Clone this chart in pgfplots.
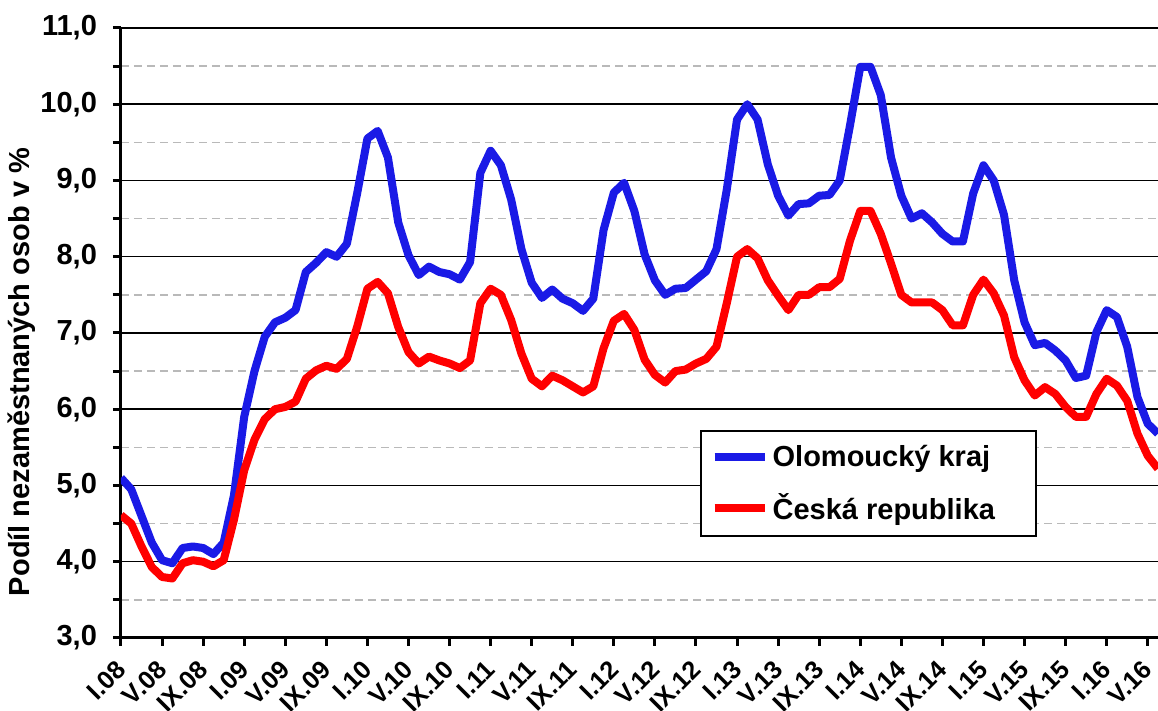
\documentclass[border=0pt]{standalone}
\usepackage{fontspec}
\setmainfont{Liberation Sans}
\usepackage{pgfplots}
\pgfplotsset{compat=1.18}
\definecolor{olblue}{RGB}{26,26,230}
\definecolor{gridgray}{RGB}{185,185,185}
\newcommand{\lblfont}{\bfseries\fontsize{14.5}{17}\selectfont}
\newcommand{\xlblfont}{\bfseries\fontsize{12.7}{15}\selectfont}
\begin{document}
\begin{tikzpicture}
\begin{axis}[
  scale only axis, width=518.5pt, height=305pt,
  xmin=0, xmax=101, ymin=3, ymax=11,
  axis x line*=bottom, axis y line*=left,
  axis line style={line width=1.5pt, -},
  xtick={0,4,...,100},
  xticklabels={I.08,V.08,IX.08,I.09,V.09,IX.09,I.10,V.10,IX.10,I.11,V.11,IX.11,I.12,V.12,IX.12,I.13,V.13,IX.13,I.14,V.14,IX.14,I.15,V.15,IX.15,I.16,V.16},
  ytick={3,4,...,11},
  minor ytick={3.5,4.5,...,10.5},
  tick align=outside, major tick length=4pt, minor tick length=4pt,
  tick style={line width=1.5pt, black},
  ymajorgrids, yminorgrids,
  major grid style={line width=0.75pt, black},
  minor grid style={line width=0.75pt, gridgray, dash pattern=on 4pt off 2.5pt},
  /pgf/number format/fixed,
  /pgf/number format/fixed zerofill,
  /pgf/number format/precision=1,
  /pgf/number format/use comma,
  /pgf/number format/assume math mode=true,
  yticklabel style={font=\lblfont, xshift=-4.5pt},
  xticklabel style={font=\xlblfont, xshift=2.5pt, yshift=-7pt, rotate=45, anchor=east},
  ylabel={Podíl nezaměstnaných osob v \%},
  ylabel style={at={(axis description cs:-0.0955,0.436)}, anchor=center, font=\lblfont},
  legend style={at={(axis description cs:0.558,0.341)}, anchor=north west, draw=black, line width=1pt, fill=white, font=\lblfont, inner xsep=5pt, inner ysep=5pt, row sep=8pt},
  legend cell align=left,
  legend image code/.code={\draw[#1] (0pt,0pt) -- (25pt,0pt);},
  every axis plot/.append style={line width=4pt, line join=round},
]
\addplot[olblue] coordinates {
(0,5.1)(1,4.95)(2,4.6)(3,4.25)(4,4.02)(5,3.98)(6,4.18)(7,4.2)(8,4.18)(9,4.1)
(10,4.25)(11,4.87)(12,5.9)(13,6.5)(14,6.95)(15,7.14)(16,7.2)(17,7.3)(18,7.8)(19,7.92)
(20,8.06)(21,8.0)(22,8.17)(23,8.83)(24,9.55)(25,9.65)(26,9.3)(27,8.45)(28,8.02)(29,7.76)
(30,7.87)(31,7.8)(32,7.77)(33,7.7)(34,7.93)(35,9.1)(36,9.39)(37,9.2)(38,8.75)(39,8.1)
(40,7.66)(41,7.46)(42,7.57)(43,7.45)(44,7.39)(45,7.29)(46,7.45)(47,8.35)(48,8.84)(49,8.97)
(50,8.6)(51,8.03)(52,7.69)(53,7.5)(54,7.58)(55,7.59)(56,7.7)(57,7.81)(58,8.1)(59,8.88)
(60,9.8)(61,10.0)(62,9.8)(63,9.21)(64,8.8)(65,8.54)(66,8.69)(67,8.7)(68,8.8)(69,8.81)
(70,9.0)(71,9.72)(72,10.49)(73,10.49)(74,10.12)(75,9.3)(76,8.8)(77,8.5)(78,8.57)(79,8.45)
(80,8.3)(81,8.2)(82,8.2)(83,8.83)(84,9.2)(85,9.0)(86,8.55)(87,7.69)(88,7.14)(89,6.84)
(90,6.87)(91,6.77)(92,6.64)(93,6.41)(94,6.44)(95,7.01)(96,7.3)(97,7.21)(98,6.82)(99,6.16)
(100,5.81)(101,5.68)};
\addlegendentry{\makebox[124.5pt][l]{Olomoucký kraj}}
\addplot[red] coordinates {
(0,4.61)(1,4.5)(2,4.2)(3,3.93)(4,3.8)(5,3.78)(6,3.98)(7,4.02)(8,4.0)(9,3.94)
(10,4.02)(11,4.55)(12,5.2)(13,5.6)(14,5.87)(15,6.0)(16,6.03)(17,6.1)(18,6.4)(19,6.51)
(20,6.57)(21,6.53)(22,6.66)(23,7.08)(24,7.58)(25,7.67)(26,7.52)(27,7.08)(28,6.75)(29,6.6)
(30,6.69)(31,6.64)(32,6.6)(33,6.54)(34,6.64)(35,7.39)(36,7.58)(37,7.5)(38,7.17)(39,6.73)
(40,6.4)(41,6.3)(42,6.44)(43,6.38)(44,6.3)(45,6.22)(46,6.3)(47,6.8)(48,7.16)(49,7.25)
(50,7.04)(51,6.65)(52,6.45)(53,6.35)(54,6.5)(55,6.52)(56,6.6)(57,6.66)(58,6.82)(59,7.39)
(60,8.0)(61,8.1)(62,7.98)(63,7.69)(64,7.49)(65,7.3)(66,7.5)(67,7.5)(68,7.6)(69,7.6)
(70,7.71)(71,8.21)(72,8.6)(73,8.6)(74,8.3)(75,7.91)(76,7.5)(77,7.4)(78,7.4)(79,7.4)
(80,7.3)(81,7.1)(82,7.1)(83,7.5)(84,7.7)(85,7.52)(86,7.23)(87,6.68)(88,6.38)(89,6.18)
(90,6.29)(91,6.2)(92,6.03)(93,5.9)(94,5.9)(95,6.2)(96,6.4)(97,6.31)(98,6.11)(99,5.68)
(100,5.39)(101,5.22)};
\addlegendentry{\makebox[124.5pt][l]{Česká republika}}
\end{axis}
\pgfresetboundingbox
\path ([xshift=-60.5pt,yshift=-36.5pt]current axis.south west) rectangle ([yshift=14pt]current axis.north east);
\end{tikzpicture}
\end{document}
